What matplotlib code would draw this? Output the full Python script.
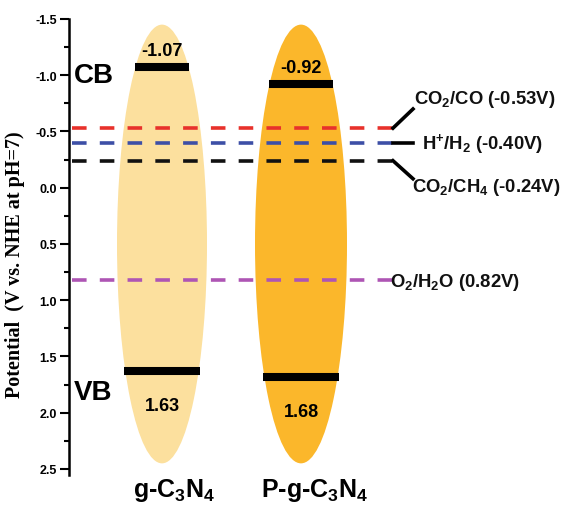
import numpy as np
import matplotlib
matplotlib.use("Agg")
import matplotlib.pyplot as plt
from matplotlib.patches import Ellipse

plt.rcParams['font.family'] = ['Liberation Sans', 'DejaVu Sans']
plt.rcParams['mathtext.default'] = 'regular'
plt.rcParams['lines.scale_dashes'] = False

# ---- data ----
materials = ['g-C$_3$N$_4$', 'P-g-C$_3$N$_4$']
cb_values = [-1.07, -0.92]
vb_values = [1.63, 1.68]
ellipse_colors = ['#FCE09E', '#FBB72B']
redox_values = [-0.53, -0.40, -0.24, 0.82]
redox_labels = ['CO$_2$/CO (-0.53V)', 'H$^{+}$/H$_2$ (-0.40V)',
                'CO$_2$/CH$_4$ (-0.24V)', 'O$_2$/H$_2$O (0.82V)']
redox_colors = ['#E8312B', '#3D4FA6', '#111111', '#AE55B4']
yticks = [-1.5, -1.0, -0.5, 0.0, 0.5, 1.0, 1.5, 2.0, 2.5]
ytick_labels = ['-1.5', '-1.0', '-0.5', '0.0', '0.5', '1.0', '1.5', '2.0', '2.5']

W, H = 564, 506
fig = plt.figure(figsize=(W / 100, H / 100), dpi=100)
ax = fig.add_axes([69 / W, 1 - 475.6 / H, 1 - 69 / W, (475.6 - 20) / H])
ax.set_xlim(0, 495)
ax.set_ylim(2.55, -1.5)

# ellipses
centers_x = [93, 232]
widths = [90, 92]
yc, eh = 0.5, 3.9
for cx, w, col in zip(centers_x, widths, ellipse_colors):
    ax.add_patch(Ellipse((cx, yc), w, eh, facecolor=col, edgecolor='none', zorder=1))

# dashed redox lines
for v, c in zip(redox_values, redox_colors):
    ax.plot([3, 324], [v, v], color=c, lw=2.6, dashes=(10.5, 9.5), zorder=3,
            solid_capstyle='butt', dash_capstyle='butt', clip_on=False)

# connectors
ax.plot([324, 344], [redox_values[0], -0.70], color='black', lw=2.6, zorder=3)
ax.plot([324, 344], [redox_values[1], redox_values[1]], color='black', lw=2.6, zorder=3)
ax.plot([324, 344], [redox_values[2], -0.08], color='black', lw=2.6, zorder=3)

# redox labels
lab_pos = [(345, -0.79), (353, -0.40), (343, -0.015), (321, 0.83)]
for (x, y), t in zip(lab_pos, redox_labels):
    ax.text(x, y, t, ha='left', va='center', fontsize=13.3, fontweight='bold', color='#111111',
            clip_on=False, zorder=4)

# band edges
for cx, w, cbv, vbv in zip(centers_x, widths, cb_values, vb_values):
    for v in (cbv, vbv):
        r = (v - yc) / (eh / 2)
        hw = (w / 2) * np.sqrt(1 - r ** 2) * 1.03
        ax.plot([cx - hw, cx + hw], [v, v], color='black', lw=5.8, solid_capstyle='butt', zorder=5)
    ax.text(cx, cbv - 0.15, f'{cbv:.2f}', ha='center', va='center', fontsize=13,
            fontweight='bold', zorder=6)
    ax.text(cx, vbv + 0.31, f'{vbv:.2f}', ha='center', va='center', fontsize=13,
            fontweight='bold', zorder=6)

# material labels
for cx, name in zip([105, 246], materials):
    ax.text(cx, 2.68, name, ha='center', va='center', fontsize=18, fontweight='bold',
            clip_on=False)

# CB / VB labels
ax.text(5, -1.0, 'CB', ha='left', va='center', fontsize=20, fontweight='bold')
ax.text(5, 1.82, 'VB', ha='left', va='center', fontsize=20, fontweight='bold')

# axes style
for s in ['top', 'right', 'bottom']:
    ax.spines[s].set_visible(False)
ax.spines['left'].set_linewidth(1.8)
ax.spines['left'].set_bounds(-1.5, 2.55)
ax.set_xticks([])
ax.set_yticks(yticks)
ax.set_yticklabels(ytick_labels, fontsize=9, fontweight='bold')
ax.set_yticks(np.arange(-1.25, 2.6, 0.5), minor=True)
ax.tick_params(axis='y', which='major', length=6.5, width=1.5, pad=2, direction='out')
ax.tick_params(axis='y', which='minor', length=3.5, width=1.5, direction='out')
ax.set_ylabel('Potential  (V vs. NHE at pH=7)', family='Liberation Serif',
              fontweight='bold', fontsize=14.5, labelpad=4)
ax.yaxis.set_label_coords(-0.089, 0.462)

fig.savefig('out.png', dpi=100)
